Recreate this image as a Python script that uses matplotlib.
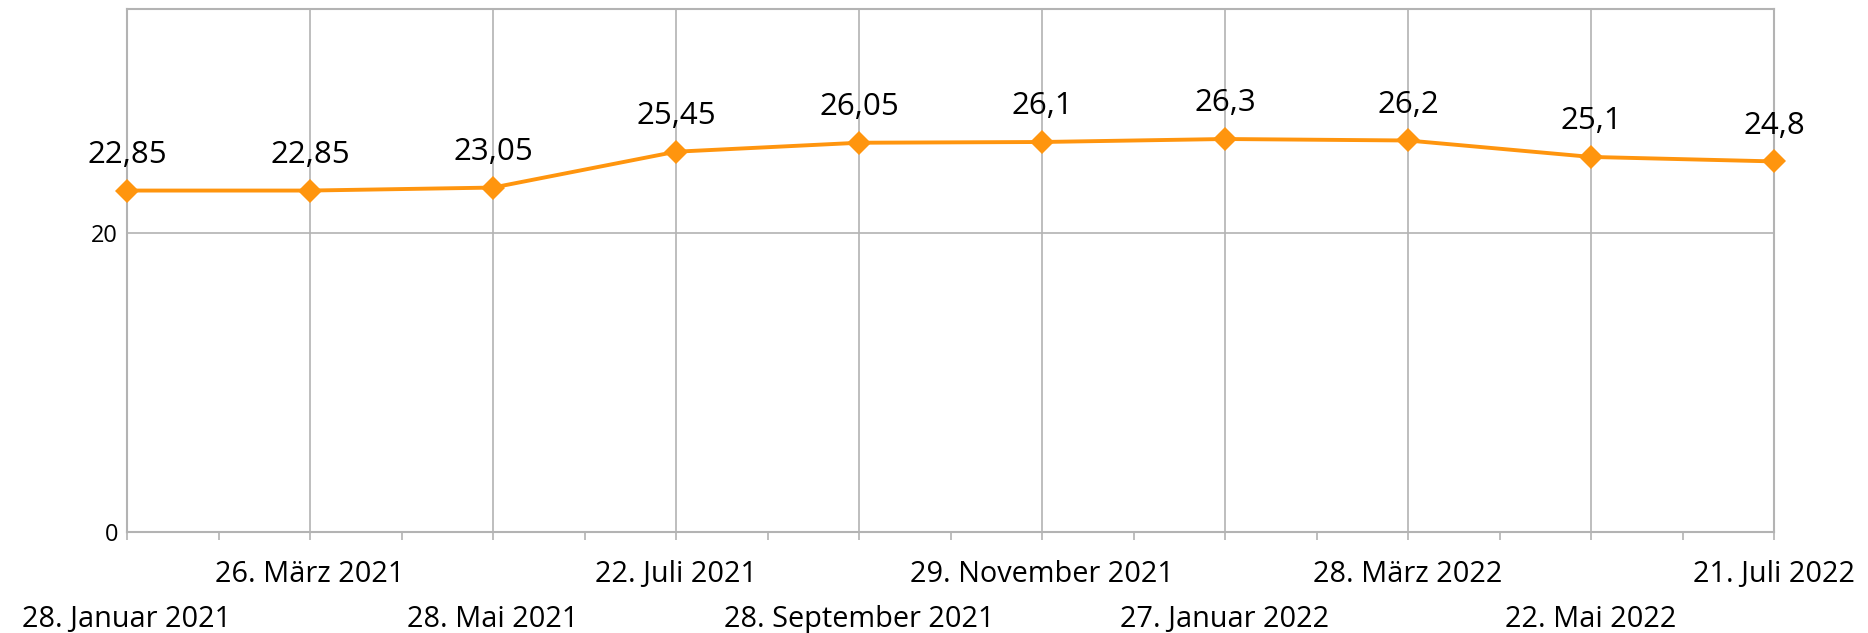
import numpy as np
import matplotlib
matplotlib.use("Agg")
import matplotlib.pyplot as plt

# =========================
# Données
# =========================
dates = [
    "28. Januar 2021", "26. März 2021", "28. Mai 2021", "22. Juli 2021",
    "28. September 2021", "29. November 2021", "27. Januar 2022",
    "28. März 2022", "22. Mai 2022", "21. Juli 2022",
]
werte = [22.85, 22.85, 23.05, 25.45, 26.05, 26.1, 26.3, 26.2, 25.1, 24.8]
werte_text = ["22,85", "22,85", "23,05", "25,45", "26,05", "26,1", "26,3", "26,2", "25,1", "24,8"]
y_ticks = [0, 20]

ORANGE = "#ff950e"
GRIS = "#b3b3b3"

plt.rcParams["font.family"] = ["Open Sans", "DejaVu Sans"]

# =========================
# Figure
# =========================
fig = plt.figure(figsize=(18.68, 6.33), dpi=100)
ax = fig.add_axes([127 / 1868, 1 - 532 / 633, (1774 - 127) / 1868, (532 - 9) / 633])

x = np.arange(len(werte))
ax.plot(x, werte, color=ORANGE, lw=2.8, marker="D", markersize=12,
        markeredgewidth=0, zorder=3, clip_on=False)

for xi, v, t in zip(x, werte, werte_text):
    ax.annotate(t, (xi, v), xytext=(0, 15), textcoords="offset points",
                ha="center", va="bottom", fontsize=22.5, color="black")

ax.set_xlim(0, len(werte) - 1)
ax.set_ylim(0, 35)

# Axe x : ticks majeurs sur les catégories, mineurs entre
ax.set_xticks(x)
ax.set_xticklabels(dates, fontsize=20.8)
ax.set_xticks(x[:-1] + 0.5, minor=True)
ax.tick_params(axis="x", which="both", direction="out", length=5.5,
               width=1.2, color=GRIS)
for i, tick in enumerate(ax.xaxis.get_major_ticks()):
    # une ligne sur deux décalée vers le bas
    tick.set_pad(14.5 if i % 2 == 1 else 47)

# Axe y
ax.set_yticks(y_ticks)
ax.set_yticklabels([str(v) for v in y_ticks], fontsize=17)
ax.tick_params(axis="y", length=0, pad=6.5)

ax.grid(True, which="major", color=GRIS, lw=1.2)
ax.set_axisbelow(True)
for s in ax.spines.values():
    s.set_color(GRIS)
    s.set_linewidth(1.5)

fig.savefig("out.png", dpi=100)
